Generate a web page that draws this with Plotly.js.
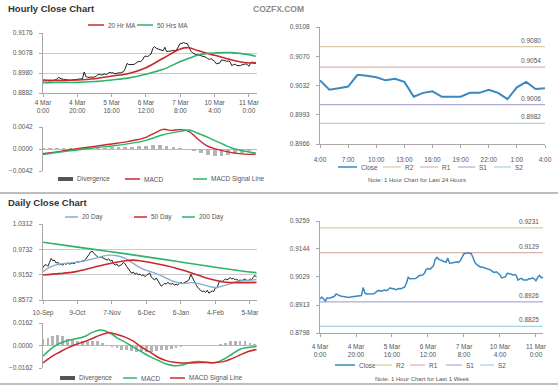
<!DOCTYPE html>
<html><head><meta charset="utf-8">
<script src="https://cdn.plot.ly/plotly-3.0.1.min.js"></script>
<style>html,body{margin:0;padding:0;background:#fff;} #chart{width:560px;height:386px;}</style>
</head><body><div id="chart"></div>
<script>
// ---------- DATA ----------
const hourTickText = ['4 Mar<br>0:00','4 Mar<br>20:00','5 Mar<br>16:00','6 Mar<br>12:00','7 Mar<br>8:00','10 Mar<br>4:00','11 Mar<br>0:00'];
const hour24TickText = ['4:00','7:00','10:00','13:00','16:00','19:00','22:00','1:00','4:00'];
const dayTickText = ['10-Sep','9-Oct','7-Nov','6-Dec','6-Jan','4-Feb','5-Mar'];
const hour24YTickText = ['0.8966','0.8993','0.9032','0.9070','0.9108'];

// hourly close, last week (index = trading hour from 4 Mar 0:00)
const closeHourly = [
 0.8938,0.8946,0.8938,0.8930,0.8943,0.8941,0.8943,0.8946,0.8949,0.8959,
 0.8954,0.8951,0.8949,0.8947,0.8946,0.8946,0.8944,0.8946,0.8947,0.8946,
 0.8947,0.8949,0.8951,0.8952,0.8985,0.8962,0.8959,0.8960,0.8960,0.8962,
 0.8960,0.8965,0.8972,0.8973,0.8970,0.8973,0.8975,0.8972,0.8978,0.8984,
 0.8980,0.8981,0.8976,0.8980,0.8981,0.8980,0.8983,0.8987,0.9003,0.9027,
 0.9021,0.9022,0.9021,0.9022,0.9027,0.9034,0.9036,0.9037,0.9044,0.9060,
 0.9063,0.9060,0.9067,0.9073,0.9101,0.9109,0.9101,0.9098,0.9096,0.9093,
 0.9089,0.9106,0.9085,0.9086,0.9089,0.9089,0.9091,0.9089,0.9096,0.9112,
 0.9125,0.9125,0.9129,0.9125,0.9125,0.9109,0.9089,0.9080,0.9073,0.9070,
 0.9070,0.9068,0.9065,0.9063,0.9060,0.9057,0.9050,0.9047,0.9050,0.9044,
 0.9037,0.9025,0.9027,0.9029,0.9044,0.9043,0.9041,0.9037,0.9039,0.9035,
 0.9016,0.9021,0.9023,0.9016,0.9016,0.9016,0.9021,0.9021,0.9025,0.9021,
 0.9013,0.9028,0.9035,0.9026,0.9027];

const ma20HourX = [0,10,20,30,40,50,60,70,80,85,90,95,100,110,120,124];
const ma20Hour  = [0.8946,0.8944,0.8946,0.8952,0.8965,0.8978,0.9006,0.9052,0.9098,0.9104,0.9090,0.9078,0.9067,0.9044,0.9029,0.9031];
const ma50HourX = [0,10,20,30,40,50,60,70,80,85,90,95,100,110,120,124];
const ma50Hour  = [0.8933,0.8934,0.8934,0.8938,0.8946,0.8956,0.8974,0.8998,0.9036,0.9052,0.9067,0.9075,0.9078,0.9080,0.9070,0.9062];

const macdHourX = [0,10,20,30,40,50,60,65,70,75,80,85,90,95,100,110,120,124];
const macdHour  = [-0.00089,-0.00045,0.00006,0.00051,0.00095,0.00146,0.00223,0.00305,0.00375,0.00356,0.00369,0.00337,0.00197,0.0007,0.00006,-0.0007,-0.00102,-0.00095];
const signalHourX = [0,10,20,30,40,50,60,70,80,85,90,100,110,120,124];
const signalHour  = [-0.00108,-0.00057,-0.00019,0.00025,0.00057,0.00102,0.00165,0.00273,0.00337,0.00363,0.00305,0.00165,0.00019,-0.00057,-0.00076];
// divergence every 4 hours
const divHour = [0.0001,0.0001,0.0001,0.0001,0.0001,0.0002,0.0002,0.0002,0.0002,0.0002,0.0003,0.0003,0.0004,0.0004,0.0005,0.0006,
 0.0007,0.0008,0.0006,0.0003,0.0001,-0.0001,-0.0004,-0.0008,-0.0011,-0.0013,-0.0013,-0.0012,-0.0010,-0.0007,-0.0004,-0.0002];

const levelNames = ['R2','R1','S1','S2'];
const levels24   = [0.9080,0.9054,0.9006,0.8982];
const levelsWeek = [0.9231,0.9129,0.8926,0.8825];

// daily close (index = trading day from 10 Sep)
const closeDaily = [
 0.9311,0.9372,0.9380,0.9342,0.9433,0.9524,0.9471,0.9486,0.9418,0.9440,
 0.9380,0.9395,0.9365,0.9410,0.9387,0.9418,0.9395,0.9402,0.9418,0.9402,
 0.9433,0.9440,0.9448,0.9440,0.9463,0.9471,0.9508,0.9554,0.9614,0.9675,
 0.9690,0.9637,0.9592,0.9569,0.9539,0.9561,0.9546,0.9524,0.9508,0.9486,
 0.9516,0.9463,0.9486,0.9402,0.9372,0.9395,0.9342,0.9357,0.9387,0.9433,
 0.9402,0.9334,0.9289,0.9221,0.9183,0.9213,0.9160,0.9190,0.9145,0.9167,
 0.9130,0.9152,0.9107,0.9137,0.9160,0.9190,0.9092,0.9061,0.9031,0.9077,
 0.9001,0.8940,0.8887,0.8917,0.8955,0.8933,0.8978,0.8948,0.8933,0.8955,
 0.8910,0.8933,0.8917,0.8948,0.8978,0.8948,0.8963,0.8986,0.9008,0.9039,
 0.9160,0.9084,0.8993,0.8933,0.8872,0.8826,0.8788,0.8766,0.8781,0.8743,
 0.8796,0.8728,0.8758,0.8781,0.8766,0.8857,0.8849,0.8963,0.9008,0.8993,
 0.9016,0.9054,0.9031,0.9061,0.9084,0.9054,0.9069,0.9031,0.9054,0.9008,
 0.9031,0.9016,0.9039,0.9054,0.9023,0.9008,0.9054,0.9039,0.9092,0.9137,
 0.9092];

const ma20DayX = [0,5,10,20,30,40,45,50,55,60,70,80,85,90,95,100,105,110,115,120,125,130];
const ma20Day  = [0.9221,0.9334,0.9395,0.9433,0.9508,0.9599,0.9584,0.9524,0.9410,0.9296,0.9160,0.8993,0.8948,0.8970,0.8948,0.8894,0.8857,0.8902,0.8955,0.9008,0.9023,0.9039];
const ma50DayX = [0,10,20,30,40,50,55,60,70,80,90,100,110,120,130];
const ma50Day  = [0.9145,0.9175,0.9221,0.9311,0.9402,0.9471,0.9486,0.9463,0.9395,0.9311,0.9198,0.9069,0.8985,0.8970,0.8975];
const ma200DayX = [0,20,40,60,80,100,120,130];
const ma200Day  = [0.9895,0.9789,0.9683,0.9577,0.9463,0.9349,0.9243,0.9198];

// daily MACD every 5 days
const macdDaily = [-0.00774,-0.00218,0.00145,0.00363,0.00484,0.00629,0.00943,0.01112,0.00943,0.00556,0.00242,-0.00121,-0.00459,-0.00798,
 -0.01064,-0.0133,-0.01451,-0.01403,-0.01209,-0.01161,-0.01209,-0.01233,-0.00991,-0.00629,-0.00266,-0.00145,-0.00073];
const signalDaily = [-0.01257,-0.00822,-0.00484,-0.00169,0.00073,0.00266,0.00508,0.0075,0.00919,0.00798,0.00605,0.00314,-0.00121,-0.00459,
 -0.00846,-0.01088,-0.01209,-0.01257,-0.01257,-0.01233,-0.01233,-0.01233,-0.01161,-0.00943,-0.00677,-0.00435,-0.0029];
// divergence every 3 days
const divDaily = [0.0045,0.0055,0.007,0.0075,0.0065,0.005,0.004,0.0035,0.003,0.003,0.0035,0.003,0.002,0.0005,-0.001,
 -0.002,-0.003,-0.0035,-0.004,-0.0045,-0.005,-0.005,-0.0045,-0.004,-0.0035,-0.003,-0.0025,-0.0015,-0.001,-0.0005,
 0.0005,0.0005,-0.0003,-0.0003,0.0003,-0.0003,0.0008,0.002,0.003,0.0035,0.0035,0.003,0.002,0.001];

// ---------- STYLE / LAYOUT ----------
const W = 560, H = 386;
const FONT = 'Liberation Sans, Arial, sans-serif';
const TICKF = {family: FONT, size: 6.5, color: '#555'};
const RED = '#c8282e', GREEN = '#2eb36a', BLACK = '#1e1e1e', BLUE = '#3a88c2', LBLUE = '#86aed0', DIVC = '#b4b4b4';
const levelColors = ['#d6cba6','#d9b2aa','#b0a9d2','#a6d3e3'];

function idx(a, step){ return a.map((_, k) => k * (step || 1)); }
function xAxis(p0, p1, range, anchor, opts){
  return Object.assign({domain:[p0/W, p1/W], range:range, anchor:anchor, showgrid:false, zeroline:false,
    showline:true, linecolor:'#a8a8a8', linewidth:1, ticks:'outside', ticklen:3, tickcolor:'#a8a8a8',
    tickfont:TICKF, tickmode:'array', fixedrange:true}, opts || {});
}
function yAxis(top, bottom, range, anchor, opts){
  return Object.assign({domain:[1-bottom/H, 1-top/H], range:range, anchor:anchor, showgrid:false,
    gridcolor:'#cacaca', zeroline:false, showline:true, linecolor:'#a8a8a8', ticks:'outside', ticklen:3,
    tickcolor:'#a8a8a8', tickfont:TICKF, tickmode:'array', ticklabelstandoff:5, fixedrange:true}, opts || {});
}
function line(x, y, xa, ya, color, width, shape){
  return {type:'scatter', mode:'lines', x:x, y:y, xaxis:xa, yaxis:ya, hoverinfo:'skip',
    line:{color:color, width:width, shape:shape || 'linear'}, showlegend:false};
}
function bars(x, y, xa, ya, w){
  return {type:'bar', x:x, y:y, xaxis:xa, yaxis:ya, width:w, marker:{color:DIVC, line:{width:0}}, hoverinfo:'skip', showlegend:false};
}

const traces = [];
// top-left hourly price
traces.push(line(idx(closeHourly), closeHourly, 'x', 'y', BLACK, 1));
traces.push(line(ma20HourX, ma20Hour, 'x', 'y', RED, 1.6, 'spline'));
traces.push(line(ma50HourX, ma50Hour, 'x', 'y', GREEN, 1.6, 'spline'));
// hourly MACD
traces.push(bars(idx(divHour, 4), divHour, 'x2', 'y2', 2.2));
traces.push(line(macdHourX, macdHour, 'x2', 'y2', RED, 1.4, 'spline'));
traces.push(line(signalHourX, signalHour, 'x2', 'y2', GREEN, 1.4, 'spline'));
// 24h chart
const last24 = closeHourly.slice(closeHourly.length - 25);
levels24.forEach((v, k) => traces.push(line([0, 24], [v, v], 'x3', 'y3', levelColors[k], 1.2)));
traces.push(line(idx(last24), last24, 'x3', 'y3', BLUE, 2));
// daily price
traces.push(line(idx(closeDaily), closeDaily, 'x4', 'y4', BLACK, 1));
traces.push(line(ma20DayX, ma20Day, 'x4', 'y4', LBLUE, 1.4, 'spline'));
traces.push(line(ma50DayX, ma50Day, 'x4', 'y4', RED, 1.6, 'spline'));
traces.push(line(ma200DayX, ma200Day, 'x4', 'y4', GREEN, 1.6, 'spline'));
// daily MACD
traces.push(bars(idx(divDaily, 3), divDaily, 'x5', 'y5', 1.7));
traces.push(line(idx(macdDaily, 5), macdDaily, 'x5', 'y5', GREEN, 1.5, 'spline'));
traces.push(line(idx(signalDaily, 5), signalDaily, 'x5', 'y5', RED, 1.5, 'spline'));
// week chart
levelsWeek.forEach((v, k) => traces.push(line([0, 123.9], [v, v], 'x6', 'y6', levelColors[k], 1.2)));
traces.push(line(idx(closeHourly), closeHourly, 'x6', 'y6', BLUE, 1.5));

const hourTickVals = idx(hourTickText, 20);
const dayTickVals = idx(dayTickText, 21);

const layout = {
  width: W, height: H, margin:{l:0, r:0, t:0, b:0}, paper_bgcolor:'#fff', plot_bgcolor:'#fff',
  showlegend:false, bargap:0, barmode:'overlay', font:{family:FONT, size:7, color:'#555'},
  xaxis: xAxis(43, 257, [0, 124.7], 'y', {tickvals:hourTickVals, ticktext:hourTickText}),
  yaxis: yAxis(33, 93, [0.8882, 0.9176], 'x', {tickvals:[0.8882,0.8980,0.9078,0.9176], tickformat:'.4f', showgrid:true}),
  xaxis2: xAxis(43, 257, [0, 124.7], 'y2', {showline:false, ticks:'', showticklabels:false}),
  yaxis2: yAxis(127, 171, [-0.0042, 0.0042], 'x2', {tickvals:[-0.0042,0,0.0042], tickformat:'.4f', showgrid:true, zeroline:true, zerolinecolor:'#bbbbbb', zerolinewidth:1}),
  xaxis3: xAxis(320, 545, [0, 24], 'y3', {tickvals:idx(hour24TickText, 3), ticktext:hour24TickText, ticklabelstandoff:6}),
  yaxis3: yAxis(27, 144, [0.89556, 0.91052], 'x3', {tickvals:[0.89556,0.89930,0.90304,0.90678,0.91052], ticktext:hour24YTickText}),
  xaxis4: xAxis(43, 257, [0, 130.3], 'y4', {tickvals:dayTickVals, ticktext:dayTickText, ticklabelstandoff:3}),
  yaxis4: yAxis(224, 300, [0.8572, 1.0312], 'x4', {tickvals:[0.8572,0.9152,0.9732,1.0312], tickformat:'.4f', showgrid:true}),
  xaxis5: xAxis(43, 257, [0, 130.3], 'y5', {showline:false, ticks:'', showticklabels:false}),
  yaxis5: yAxis(323, 368, [-0.0162, 0.0162], 'x5', {tickvals:[-0.0162,0,0.0162], tickformat:'.4f', showgrid:true, zeroline:true, zerolinecolor:'#bbbbbb', zerolinewidth:1}),
  xaxis6: xAxis(320, 543, [0, 123.9], 'y6', {tickvals:hourTickVals, ticktext:hourTickText, ticklabelstandoff:4}),
  yaxis6: yAxis(221, 333, [0.8798, 0.9259], 'x6', {tickvals:[0.8798,0.8913,0.9029,0.9144,0.9259], tickformat:'.4f'}),
  shapes: [], annotations: []
};

const P = x => x / W, Q = y => 1 - y / H;
function txt(x, y, text, opts){
  layout.annotations.push(Object.assign({xref:'paper', yref:'paper', x:P(x), y:Q(y), text:text, showarrow:false,
    xanchor:'left', yanchor:'middle', font:{family:FONT, size:6.5, color:'#555'}}, opts || {}));
}
function seg(x0, x1, y, color, width){
  layout.shapes.push({type:'line', xref:'paper', yref:'paper', x0:P(x0), x1:P(x1), y0:Q(y), y1:Q(y), line:{color:color, width:width}});
}

// titles
txt(6, 9, '<b>Hourly Close Chart</b>', {font:{family:FONT, size:9.5, color:'#333'}});
txt(278, 9, '<b>COZFX.COM</b>', {xanchor:'center', font:{family:FONT, size:8.5, color:'#8c8c8c'}});
txt(6, 202, '<b>Daily Close Chart</b>', {font:{family:FONT, size:9.5, color:'#333'}});
// separators
seg(0, 558, 193, '#bdbdbd', 2);
seg(0, 558, 384, '#bdbdbd', 2);

// legends
seg(88, 104, 25, RED, 1.5); txt(106, 25, '20 Hr MA');
seg(137, 153, 25, GREEN, 1.5); txt(155, 25, '50 Hrs MA');
seg(58, 73, 179, '#555', 4); txt(75, 179, 'Divergence');
seg(125, 140, 179, RED, 1.5); txt(142, 179, 'MACD');
seg(193, 207, 179, GREEN, 1.5); txt(209, 179, 'MACD Signal Line');

seg(338, 357, 167, BLUE, 1.5); txt(359, 167, 'Close');
seg(383, 401, 167, levelColors[0], 1.2); txt(403, 167, levelNames[0]);
seg(420, 438, 167, levelColors[1], 1.2); txt(440, 167, levelNames[1]);
seg(458, 475, 167, levelColors[2], 1.2); txt(477, 167, levelNames[2]);
seg(494, 511, 167, levelColors[3], 1.2); txt(513, 167, levelNames[3]);
txt(417, 180, 'Note: 1 Hour Chart for Last 24 Hours', {xanchor:'center', font:{family:FONT, size:6, color:'#555'}});

seg(65, 78, 217, LBLUE, 1.5); txt(80, 217, '20 Day');
seg(134, 147, 217, RED, 1.5); txt(149, 217, '50 Day');
seg(182, 195, 217, GREEN, 1.5); txt(197, 217, '200 Day');
seg(60, 75, 378, '#555', 4); txt(77, 378, 'Divergence');
seg(123, 137, 378, GREEN, 1.5); txt(139, 378, 'MACD');
seg(170, 185, 378, RED, 1.5); txt(187, 378, 'MACD Signal Line');

seg(335, 355, 365, BLUE, 1.5); txt(357, 365, 'Close');
seg(376, 392, 365, levelColors[0], 1.2); txt(394, 365, levelNames[0]);
seg(410, 425, 365, levelColors[1], 1.2); txt(427, 365, levelNames[1]);
seg(446, 462, 365, levelColors[2], 1.2); txt(464, 365, levelNames[2]);
seg(480, 494, 365, levelColors[3], 1.2); txt(496, 365, levelNames[3]);
txt(422, 379, 'Note: 1 Hour Chart for Last 1 Week', {xanchor:'center', font:{family:FONT, size:6, color:'#555'}});

// level value labels
levels24.forEach(v => layout.annotations.push({xref:'x3', yref:'y3', x:24, y:v, text:v.toFixed(4), showarrow:false,
  xanchor:'right', yanchor:'bottom', xshift:-2, yshift:1, font:{family:FONT, size:6.5, color:'#555'}}));
levelsWeek.forEach(v => layout.annotations.push({xref:'x6', yref:'y6', x:123.9, y:v, text:v.toFixed(4), showarrow:false,
  xanchor:'right', yanchor:'bottom', xshift:-2, yshift:1, font:{family:FONT, size:6.5, color:'#555'}}));

Plotly.newPlot('chart', traces, layout, {staticPlot:true, displayModeBar:false});
</script></body></html>
